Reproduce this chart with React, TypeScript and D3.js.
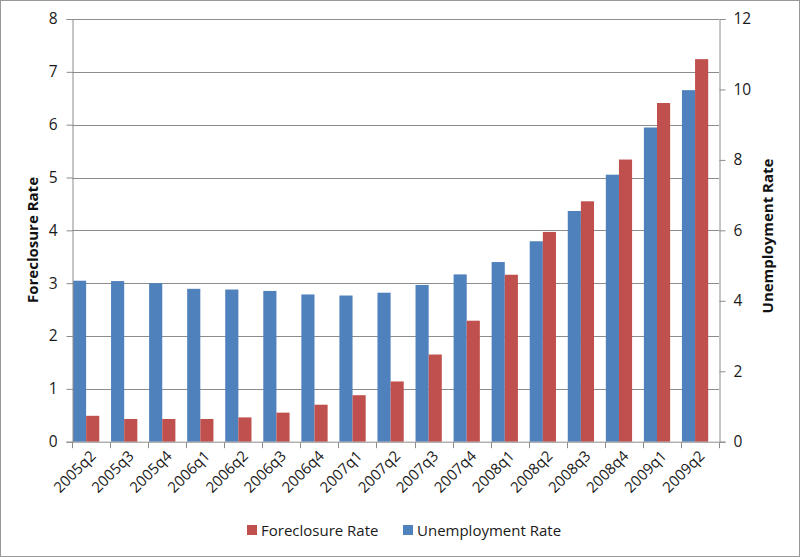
import React, { useRef, useEffect } from 'react'
import * as d3 from 'd3'

const quarters = [
  '2005q2', '2005q3', '2005q4', '2006q1', '2006q2', '2006q3', '2006q4', '2007q1',
  '2007q2', '2007q3', '2007q4', '2008q1', '2008q2', '2008q3', '2008q4', '2009q1', '2009q2',
]
// left axis
const foreclosureRate = [
  0.49, 0.43, 0.43, 0.43, 0.46, 0.55, 0.70, 0.88, 1.14, 1.65, 2.29, 3.16, 3.97, 4.55, 5.34, 6.41, 7.24,
]
// right axis
const unemploymentRate = [
  4.57, 4.56, 4.50, 4.34, 4.32, 4.28, 4.18, 4.15, 4.23, 4.45, 4.75, 5.10, 5.69, 6.55, 7.58, 8.92, 9.98,
]
const leftTicks = [0, 1, 2, 3, 4, 5, 6, 7, 8]
const rightTicks = [0, 2, 4, 6, 8, 10, 12]

const FONT = '"Open Sans", sans-serif'
const BLUE = '#4f81bd'
const RED = '#c0504d'
const GRID = '#8c8c8c'

const App = () => {
  const svgRef = useRef<SVGSVGElement>(null)

  useEffect(() => {
    const width = 800, height = 557
    const marginLeft = 72, marginRight = 81, marginTop = 19, marginBottom = 115.3
    const svg = d3.select(svgRef.current)
    svg.selectAll('*').remove()

    const x = d3.scaleBand<string>().domain(quarters).range([marginLeft, width - marginRight]).padding(0)
    const yL = d3.scaleLinear().domain([0, 8]).range([height - marginBottom, marginTop])
    const yR = d3.scaleLinear().domain([0, 12]).range([height - marginBottom, marginTop])
    const bw = x.bandwidth()
    const barW = bw * 0.345

    svg.append('rect')
      .attr('x', 0.5).attr('y', 0.5)
      .attr('width', width - 1).attr('height', height - 1)
      .attr('fill', 'white').attr('stroke', '#999')

    // gridlines
    svg.append('g')
      .selectAll('line')
      .data(leftTicks.slice(1))
      .join('line')
      .attr('x1', marginLeft).attr('x2', width - marginRight)
      .attr('y1', d => Math.round(yL(d)) + 0.5).attr('y2', d => Math.round(yL(d)) + 0.5)
      .attr('stroke', GRID)

    // bars
    const g = svg.append('g')
      .selectAll('g')
      .data(quarters)
      .join('g')
      .attr('transform', d => `translate(${x(d)},0)`)

    g.append('rect')
      .attr('x', 1)
      .attr('width', barW)
      .attr('y', (d, i) => yR(unemploymentRate[i]))
      .attr('height', (d, i) => yR(0) - yR(unemploymentRate[i]))
      .attr('fill', BLUE)

    g.append('rect')
      .attr('x', 1 + barW)
      .attr('width', barW)
      .attr('y', (d, i) => yL(foreclosureRate[i]))
      .attr('height', (d, i) => yL(0) - yL(foreclosureRate[i]))
      .attr('fill', RED)

    // left axis
    svg.append('g')
      .attr('transform', `translate(${marginLeft + 0.5},0)`)
      .call(d3.axisLeft(yL).tickValues(leftTicks).tickSize(6).tickPadding(9))
      .call(a => a.selectAll('line, path').attr('stroke', GRID))
      .call(a => a.selectAll('text').attr('font-family', FONT).attr('font-size', 15.5).attr('fill', '#1a1a1a'))

    // right axis
    svg.append('g')
      .attr('transform', `translate(${width - marginRight + 0.5},0)`)
      .call(d3.axisRight(yR).tickValues(rightTicks).tickSize(6).tickPadding(8))
      .call(a => a.selectAll('line, path').attr('stroke', GRID))
      .call(a => a.selectAll('text').attr('font-family', FONT).attr('font-size', 15.5).attr('fill', '#1a1a1a'))

    // bottom axis
    const bottom = svg.append('g')
      .attr('transform', `translate(0,${yL(0) + 0.5})`)
    bottom.append('line')
      .attr('x1', marginLeft).attr('x2', width - marginRight)
      .attr('stroke', GRID)
    bottom.selectAll('line.tick')
      .data([...quarters.map(q => x(q) as number), width - marginRight])
      .join('line')
      .attr('class', 'tick')
      .attr('x1', d => Math.round(d) + 0.5).attr('x2', d => Math.round(d) + 0.5)
      .attr('y1', 0).attr('y2', 6)
      .attr('stroke', GRID)
    bottom.selectAll('text')
      .data(quarters)
      .join('text')
      .attr('transform', d => `translate(${(x(d) as number) + bw / 2 + 2},${11}) rotate(-45)`)
      .attr('text-anchor', 'end')
      .attr('dy', '0.35em')
      .attr('font-family', FONT)
      .attr('font-size', 15)
      .attr('fill', '#1a1a1a')
      .text(d => d)

    // axis titles
    svg.append('text')
      .attr('transform', `translate(38,240) rotate(-90)`)
      .attr('text-anchor', 'middle')
      .attr('font-family', FONT).attr('font-size', 15).attr('font-weight', 'bold')
      .attr('fill', '#111')
      .text('Foreclosure Rate')

    svg.append('text')
      .attr('transform', `translate(773,236) rotate(-90)`)
      .attr('text-anchor', 'middle')
      .attr('font-family', FONT).attr('font-size', 15).attr('font-weight', 'bold')
      .attr('fill', '#111')
      .text('Unemployment Rate')

    // legend
    const legend = [
      { label: 'Foreclosure Rate', color: RED, x: 247 },
      { label: 'Unemployment Rate', color: BLUE, x: 403 },
    ]
    const lg = svg.append('g')
      .selectAll('g')
      .data(legend)
      .join('g')
      .attr('transform', d => `translate(${d.x},525)`)
    lg.append('rect').attr('width', 10).attr('height', 10).attr('fill', d => d.color)
    lg.append('text')
      .attr('x', 14).attr('y', 10.5)
      .attr('font-family', FONT).attr('font-size', 15).attr('fill', '#1a1a1a')
      .text(d => d.label)
  }, [])

  return (
    <svg ref={svgRef} width={800} height={557} style={{ display: 'block', position: 'absolute', left: 0, top: 0 }} />
  )
}

export default App
